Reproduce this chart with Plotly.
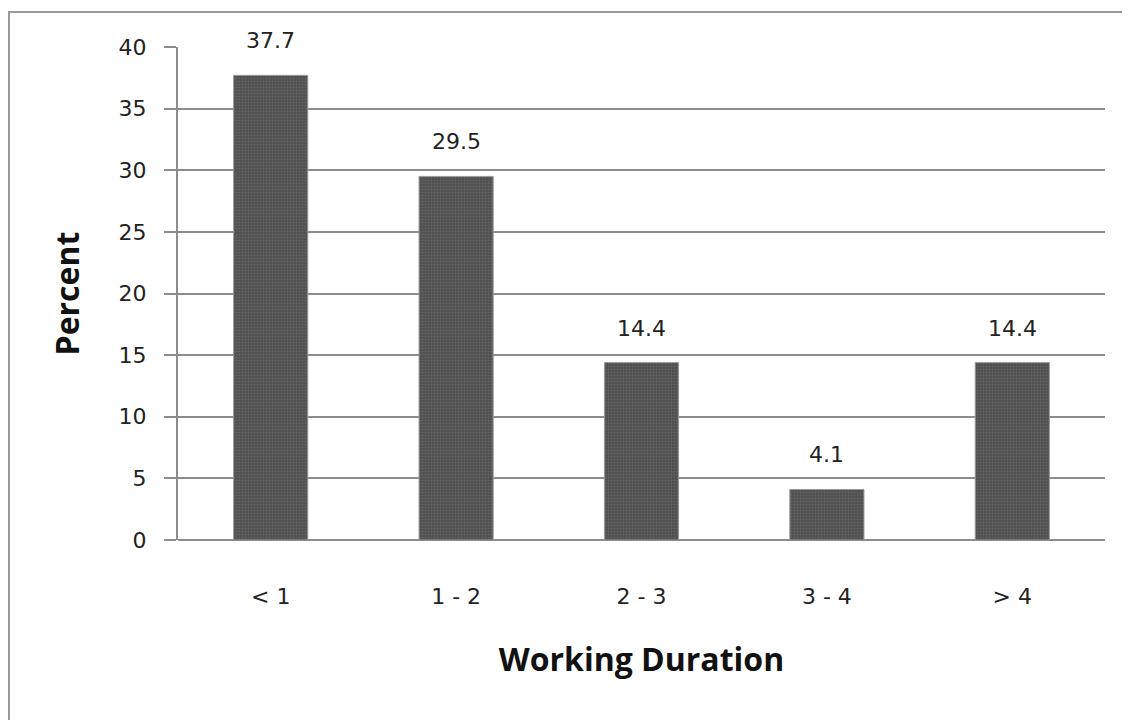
import plotly.graph_objects as go

categories = ["< 1", "1 - 2", "2 - 3", "3 - 4", "> 4"]
percent = [37.7, 29.5, 14.4, 4.1, 14.4]
y_ticks = [0, 5, 10, 15, 20, 25, 30, 35, 40]

# page body has an 8px margin; compensate so the picture lands where the reference has it
OFF = 8
W, H = 1122, 712
L = 178 - OFF
T = 47 - OFF
R = W - (1105 - OFF)
ph = 493
B = H - T - ph
pw = W - L - R

fig = go.Figure(go.Bar(
    x=categories, y=percent,
    marker=dict(color="#4a4a4a",
                line=dict(color="#9a9a9a", width=1),
                pattern=dict(shape=".", fgcolor="#7a7a7a", bgcolor="#4f4f4f", size=3, solidity=0.4)),
    width=0.4,
))

for c, v in zip(categories, percent):
    fig.add_annotation(x=c, y=v, text=f"{v}", showarrow=False, yanchor="bottom",
                       yshift=20, font=dict(family="DejaVu Sans", size=22, color="#222"))

def px2x(px):
    return (px - OFF - L) / pw

def py2y(py):
    return (T + ph - (py - OFF)) / ph

# outer border (top and left)
fig.add_shape(type="line", xref="paper", yref="paper", x0=px2x(8), x1=px2x(1135),
              y0=py2y(12), y1=py2y(12), line=dict(color="#999", width=2))
fig.add_shape(type="line", xref="paper", yref="paper", x0=px2x(9), x1=px2x(9),
              y0=py2y(12), y1=py2y(730), line=dict(color="#999", width=2))

fig.update_layout(
    width=W, height=H,
    margin=dict(l=L, r=R, t=T, b=B),
    paper_bgcolor="white", plot_bgcolor="white",
    showlegend=False,
    font=dict(family="DejaVu Sans", color="#222", size=22),
    xaxis=dict(showgrid=False, ticks="", showline=False, zeroline=False,
               tickfont=dict(family="DejaVu Sans", size=22), ticklabelstandoff=41,
               title=dict(text="<b>Working Duration</b>", font=dict(family="Open Sans", size=32, color="#111"), standoff=40)),
    yaxis=dict(range=[0, 40], tickvals=y_ticks, showgrid=True, gridcolor="#8c8c8c", gridwidth=1.5,
               showline=True, linecolor="#8c8c8c", linewidth=2, ticks="outside", ticklen=12,
               tickcolor="#8c8c8c", tickwidth=1.5, zeroline=True, zerolinecolor="#8c8c8c", zerolinewidth=2,
               tickfont=dict(family="DejaVu Sans", size=22), ticklabelstandoff=13,
               title=dict(text="<b>Percent</b>", font=dict(family="Open Sans", size=32, color="#111"), standoff=29)),
    bargap=0.6,
)

fig.write_html("out.html")
